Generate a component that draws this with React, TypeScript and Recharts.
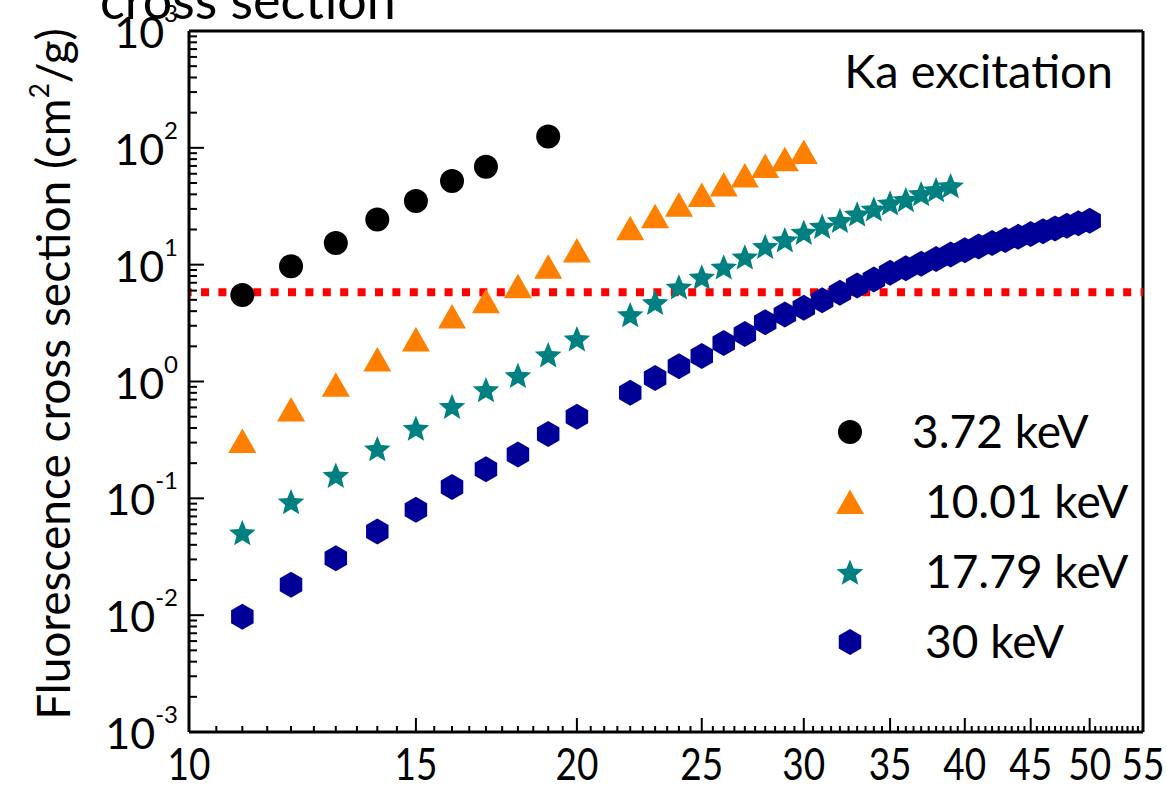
import React from 'react';
import {
  ScatterChart,
  Scatter,
  XAxis,
  YAxis,
  ReferenceLine,
  Legend,
} from 'recharts';

// energies of the four excitation lines
const seriesNames = ['3.72 keV', ' 10.01 keV', '17.79 keV', '30 keV'];
const seriesColors = ['#000000', '#FF8000', '#008080', '#000099'];

const x372 = [11, 12, 13, 14, 15, 16, 17, 19];
const y372 = [5.5, 9.7, 15.3, 24.4, 35, 52, 69, 125];

const x1001 = [11, 12, 13, 14, 15, 16, 17, 18, 19, 20, 22, 23, 24, 25, 26, 27, 28, 29, 30];
const y1001 = [0.31, 0.575, 0.94, 1.54, 2.29, 3.6, 4.87, 6.55, 9.6, 13.2, 20.5, 26, 32.5, 39.5, 48.5, 58, 70, 80, 92];

const x1779 = [11, 12, 13, 14, 15, 16, 17, 18, 19, 20, 22, 23, 24, 25, 26, 27, 28, 29, 30, 31, 32, 33, 34, 35, 36, 37, 38, 39];
const y1779 = [
  0.051, 0.094, 0.158, 0.267, 0.4, 0.615, 0.855, 1.13, 1.7, 2.33,
  3.75, 4.77, 6.47, 7.87, 9.6, 11.7, 14.4, 16.4, 19.0, 21.4, 24.0, 27.3, 30.1, 33.9, 36.2, 40.7, 44, 47.6,
];

const x30 = [
  11, 12, 13, 14, 15, 16, 17, 18, 19, 20, 22, 23, 24, 25, 26, 27, 28, 29, 30, 31, 32, 33, 34, 35,
  36, 37, 38, 39, 40, 41, 42, 43, 44, 45, 46, 47, 48, 49, 50,
];
const y30 = [
  0.0097, 0.0182, 0.0307, 0.052, 0.08, 0.125, 0.177, 0.237, 0.356, 0.5,
  0.8, 1.07, 1.35, 1.65, 2.14, 2.55, 3.22, 3.75, 4.28, 4.97, 5.75, 6.64, 7.47, 8.53,
  9.3, 10.2, 11.2, 12.2, 13.3, 14.3, 15.3, 16.3, 17.3, 18.3, 19.3, 20.4, 21.5, 22.6, 23.8,
];

// red dotted threshold
const threshold = 5.8;

const xMajorTicks = [10, 15, 20, 25, 30, 35, 40, 45, 50, 55];
const yMajorTicks = [0.001, 0.01, 0.1, 1, 10, 100, 1000];

const xTicks: number[] = [];
for (let v = 10; v <= 55; v += 0.5) xTicks.push(v);
const yTicks: number[] = [];
yMajorTicks.forEach((m, i) => {
  yTicks.push(m);
  if (i < yMajorTicks.length - 1) for (let k = 2; k <= 9; k++) yTicks.push(k * m);
});

const toPoints = (xs: number[], ys: number[]) => xs.map((x, i) => ({ x, y: ys[i] }));

const FONT = 'Lato, "Liberation Sans", sans-serif';

const circleShape = (cx: number, cy: number, c: string) => <circle cx={cx} cy={cy} r={12} fill={c} />;
const triangleShape = (cx: number, cy: number, c: string) => (
  <polygon points={`${cx},${cy - 12.5} ${cx + 14},${cy + 12} ${cx - 14},${cy + 12}`} fill={c} />
);
const starShape = (cx: number, cy: number, c: string) => {
  const pts: string[] = [];
  for (let i = 0; i < 10; i++) {
    const r = i % 2 === 0 ? 14 : 6.2;
    const a = -Math.PI / 2 + (i * Math.PI) / 5;
    pts.push(`${cx + r * Math.cos(a)},${cy + 1.5 + r * Math.sin(a)}`);
  }
  return <polygon points={pts.join(' ')} fill={c} />;
};
const hexShape = (cx: number, cy: number, c: string) => {
  const pts: string[] = [];
  for (let i = 0; i < 6; i++) {
    const a = -Math.PI / 2 + (i * Math.PI) / 3;
    pts.push(`${cx + 13 * Math.cos(a)},${cy + 13 * Math.sin(a)}`);
  }
  return <polygon points={pts.join(' ')} fill={c} />;
};
const shapes = [circleShape, triangleShape, starShape, hexShape];

const XTick = (props: any) => {
  const { x, y, payload } = props;
  const major = xMajorTicks.includes(payload.value);
  return (
    <g>
      <line x1={x} x2={x} y1={y} y2={y - (major ? 14 : 6)} stroke="#000" strokeWidth={2} />
      {major && (
        <text
          transform={`translate(${x},${y + 48}) scale(0.84,1)`}
          textAnchor="middle"
          fontSize={44}
          fontFamily={FONT}
          fill="#000"
        >
          {payload.value}
        </text>
      )}
    </g>
  );
};

const YTick = (props: any) => {
  const { x, y, payload } = props;
  const idx = yMajorTicks.indexOf(payload.value);
  const major = idx >= 0;
  return (
    <g>
      <line x1={x} x2={x + (major ? 15 : 8)} y1={y} y2={y} stroke="#000" strokeWidth={2} />
      {major && (
        <text x={x - 11} y={y + 17} textAnchor="end" fontSize={43} fontFamily={FONT} fill="#000">
          10
          <tspan dy={-26} fontSize={24}>
            {idx - 3}
          </tspan>
        </text>
      )}
    </g>
  );
};

const LegendBox = () => (
  <svg width={330} height={290}>
    {seriesNames.map((name, i) => {
      const cy = 30 + i * 70;
      return (
        <g key={name}>
          {shapes[i](30, cy, seriesColors[i])}
          <text x={i === 0 ? 92 : 105} y={cy + 16} fontSize={46} fontFamily={FONT} fill="#000">
            {name.trim()}
          </text>
        </g>
      );
    })}
  </svg>
);

export default function App() {
  const series = [toPoints(x372, y372), toPoints(x1001, y1001), toPoints(x1779, y1779), toPoints(x30, y30)];
  return (
    <div style={{ position: 'absolute', left: 0, top: 0, width: 1167, height: 787, background: '#fff' }}>
      <ScatterChart width={1167} height={787} margin={{ top: 31, right: 24, bottom: 0, left: 0 }}>
        <XAxis
          dataKey="x"
          type="number"
          scale="log"
          domain={[10, 55]}
          allowDataOverflow
          ticks={xTicks}
          interval={0}
          tick={<XTick />}
          tickLine={false}
          tickSize={0}
          tickMargin={0}
          height={55}
          axisLine={{ stroke: '#000', strokeWidth: 3 }}
        />
        <YAxis
          dataKey="y"
          type="number"
          scale="log"
          domain={[0.001, 1000]}
          allowDataOverflow
          ticks={yTicks}
          interval={0}
          tick={<YTick />}
          tickLine={false}
          tickSize={0}
          tickMargin={0}
          width={189}
          axisLine={{ stroke: '#000', strokeWidth: 3 }}
        />
        <ReferenceLine y={1000} stroke="#000" strokeWidth={3} />
        <ReferenceLine x={55} stroke="#000" strokeWidth={3} />
        {series.map((data, i) => (
          <Scatter
            key={seriesNames[i]}
            name={seriesNames[i]}
            data={data}
            fill={seriesColors[i]}
            isAnimationActive={false}
            shape={(p: any) => shapes[i](p.cx, p.cy, seriesColors[i])}
          />
        ))}
        <ReferenceLine y={threshold} stroke="#FF0000" strokeWidth={8} strokeDasharray="8 9.4" strokeDashoffset={5.4} />
        <Legend
          layout="horizontal"
          align="center"
          verticalAlign="middle"
          content={() => <LegendBox />}
          wrapperStyle={{ left: 820, top: 402, width: 330, height: 290 }}
        />
      </ScatterChart>
      <svg
        width={1167}
        height={787}
        style={{ position: 'absolute', left: 0, top: 0, pointerEvents: 'none' }}
      >
        <text x={100} y={19} fontSize={52} fontFamily={FONT} fill="#000">
          cross section
        </text>
        <text x={1113} y={88} textAnchor="end" fontSize={47} fontFamily={FONT} fill="#000">
          Ka excitation
        </text>
        <text
          transform="translate(70,374) rotate(-90)"
          textAnchor="middle"
          fontSize={46}
          fontFamily={FONT}
          fill="#000"
        >
          Fluorescence cross section (cm
          <tspan dy={-21} fontSize={26}>2</tspan>
          <tspan dy={21}>/g)</tspan>
        </text>
      </svg>
    </div>
  );
}
